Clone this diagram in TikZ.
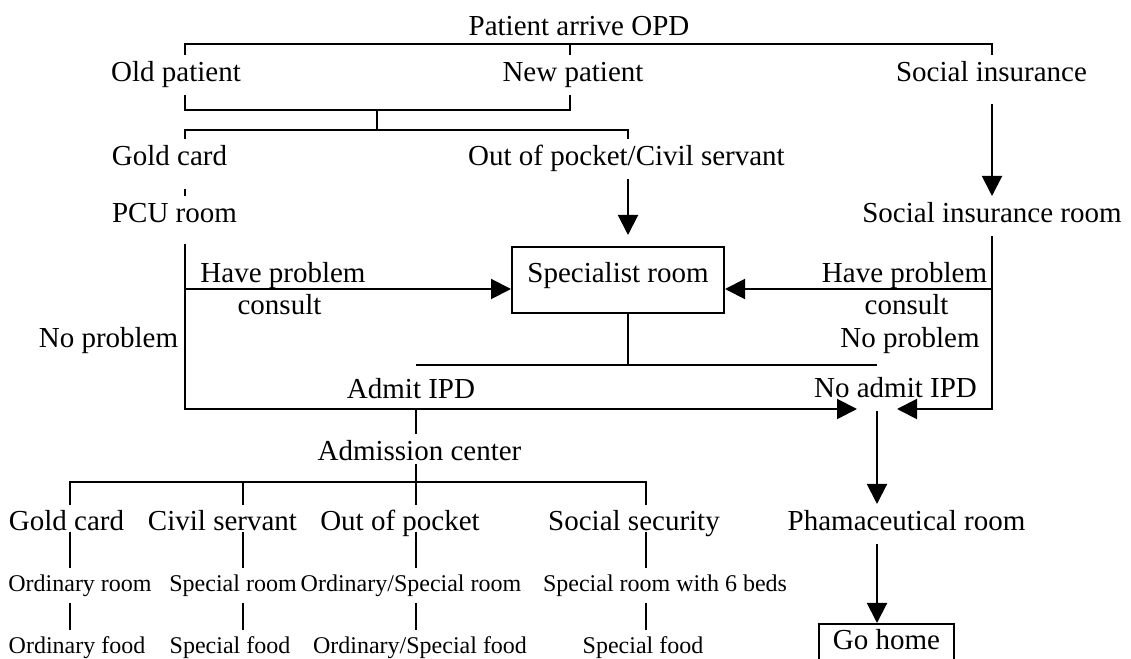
\documentclass[tikz,border=0pt]{standalone}
\usepackage{fontspec}
\setmainfont{Liberation Serif}
\usetikzlibrary{arrows.meta}
\tikzset{
  lbl/.style={font=\fontsize{14.5bp}{17bp}\selectfont,inner xsep=0pt,inner ysep=3bp,text height=10bp,text depth=3bp,anchor=base},
  opt/.style={lbl,text height=12.5bp,text depth=0bp,inner ysep=0bp},
  sml/.style={lbl,font=\fontsize{12bp}{14bp}\selectfont,text height=8bp,text depth=2.5bp},
  roombox/.style={lbl,draw,anchor=center,text height=6bp,text depth=3bp},
}
\begin{document}
\begin{tikzpicture}[>={Triangle[length=10bp,width=10bp]},line join=miter,line width=1bp]
%%
\useasboundingbox (0bp,0bp) rectangle (565.5bp,329.5bp);
\clip (0bp,0bp) rectangle (565.5bp,329.5bp);
\node (title) at (289.5bp,311.5bp) [lbl] {Patient arrive OPD};
  \node (oldp) at (88.0bp,288.5bp) [lbl] {Old patient};
  \node (newp) at (286.5bp,288.5bp) [lbl] {New patient};
  \node (socins) at (495.75bp,288.5bp) [lbl] {Social insurance};
  \node (gold) at (84.75bp,246.5bp) [lbl] {Gold card};
  \node (oop) at (313.25bp,246.5bp) [lbl] {Out of pocket/Civil servant};
  \node (pcu) at (87.25bp,218.0bp) [lbl] {PCU room};
  \node (socroom) at (496.0bp,218.0bp) [lbl] {Social insurance room};
  \node (spec) at (309.0bp,189.5bp) [roombox,minimum width=106bp,minimum height=33bp] {Specialist room};
  \node (havel) at (141.5bp,188.0bp) [lbl] {Have problem};
  \node (consl) at (139.75bp,172.0bp) [lbl] {consult};
  \node (noprobl) at (54.25bp,155.5bp) [lbl] {No problem};
  \node (haver) at (452.25bp,188.0bp) [lbl] {Have problem};
  \node (consr) at (453.25bp,172.0bp) [lbl] {consult};
  \node (noprobr) at (455.0bp,155.5bp) [lbl] {No problem};
  \node (admit) at (205.5bp,130.0bp) [lbl] {Admit IPD};
  \node (noadmit) at (447.75bp,130.5bp) [lbl] {No admit IPD};
  \node (adm) at (209.75bp,99.0bp) [lbl] {Admission center};
  \node (pharm) at (453.25bp,64.0bp) [lbl] {Phamaceutical room};
  \node (home) at (443.25bp,18.0bp) [roombox,anchor=north,minimum width=67.5bp,minimum height=22bp] {Go home};
  \node (g1) at (33.25bp,64.0bp) [opt] {Gold card};
  \node (g2) at (111.25bp,64.0bp) [opt] {Civil servant};
  \node (g3) at (200.0bp,64.0bp) [opt] {Out of pocket};
  \node (g4) at (317.0bp,64.0bp) [opt] {Social security};
  \node (r1) at (40.0bp,34.0bp) [sml] {Ordinary room};
  \node (r2) at (116.5bp,34.0bp) [sml] {Special room};
  \node (r3) at (205.5bp,34.0bp) [sml] {Ordinary/Special room};
  \node (r4) at (332.5bp,34.0bp) [sml] {Special room with 6 beds};
  \node (f1) at (38.5bp,3.0bp) [sml] {Ordinary food};
  \node (f2) at (115.0bp,3.0bp) [sml] {Special food};
  \node (f3) at (210.0bp,3.0bp) [sml] {Ordinary/Special food};
  \node (f4) at (321.5bp,3.0bp) [sml] {Special food};
  \coordinate (tl) at (92.5bp,307.5bp);
  \coordinate (tm) at (285.0bp,307.5bp);
  \coordinate (tr) at (496.0bp,307.5bp);
  \coordinate (bl1) at (92.5bp,274.5bp);
  \coordinate (bm1) at (285.0bp,274.5bp);
  \coordinate (bc1) at (188.5bp,274.5bp);
  \coordinate (bc2) at (188.5bp,264.5bp);
  \coordinate (bl2) at (92.5bp,264.5bp);
  \coordinate (br2) at (314.0bp,264.5bp);
  \coordinate (lhp) at (92.5bp,185.0bp);
  \coordinate (rhp) at (496.0bp,185.0bp);
  \coordinate (lcorner) at (92.5bp,125.0bp);
  \coordinate (rcorner) at (496.0bp,125.0bp);
  \coordinate (meet) at (438.5bp,125.0bp);
  \coordinate (sl) at (208.0bp,147.0bp);
  \coordinate (sm) at (314.0bp,147.0bp);
  \coordinate (sr) at (438.5bp,147.0bp);
  \coordinate (adj) at (208.0bp,125.0bp);
  \coordinate (cl) at (35.0bp,88.5bp);
  \coordinate (c2) at (121.5bp,88.5bp);
  \coordinate (c3) at (208.0bp,88.5bp);
  \coordinate (cr) at (323.0bp,88.5bp);
  \draw [black] (oldp.north -| tl) -- (tl) -- (tr) -- (socins.north -| tr);
  \draw [black] (tm) -- (newp.north -| tm);
  \draw [black] (oldp.south -| bl1) -- (bl1) -- (bm1) -- (newp.south -| bm1);
  \draw [black] (bc1) -- (bc2);
  \draw [black] (gold.north -| bl2) -- (bl2) -- (br2) -- (oop.north -| br2);
  \draw [black,shorten <=5bp] (gold.south -| bl2) -- (pcu.north -| bl2);
  \draw [black,->,shorten >=5.5bp] (oop.south -| br2) -- (spec.north -| br2);
  \draw [black,->,shorten <=4.5bp] (socins.south -| tr) -- (socroom.north -| tr);
  \draw [black,->] (lhp) -- (lhp -| spec.west);
  \draw [black,->] (rhp) -- (rhp -| spec.east);
  \draw [black,->,shorten <=4bp,shorten >=10bp] (pcu.south -| lcorner) -- (lcorner) -- (meet);
  \draw [black,->,shorten >=10bp] (socroom.south -| rcorner) -- (rcorner) -- (meet);
  \draw [black] (spec.south -| sm) -- (sm);
  \draw [black] (sl) -- (sr);
  \draw [black,->] (noadmit.south -| meet) -- (pharm.north -| meet);
  \draw [black,->] (pharm.south -| meet) -- (home.north -| meet);
  \draw [black] (adj) -- (adm.north -| adj);
  \draw [black,shorten <=-5bp] (adm.south -| c3) -- (g3.north -| c3);
  \draw [black] (g1.north -| cl) -- (cl) -- (cr) -- (g4.north -| cr);
  \draw [black] (c2) -- (g2.north -| c2);
  \draw [black] (g1.south -| cl) -- (r1.north -| cl);
  \draw [black] (g2.south -| c2) -- (r2.north -| c2);
  \draw [black] (g3.south -| c3) -- (r3.north -| c3);
  \draw [black] (g4.south -| cr) -- (r4.north -| cr);
  \draw [black] (r1.south -| cl) -- (f1.north -| cl);
  \draw [black] (r2.south -| c2) -- (f2.north -| c2);
  \draw [black] (r3.south -| c3) -- (f3.north -| c3);
  \draw [black] (r4.south -| cr) -- (f4.north -| cr);
%
\end{tikzpicture}
\end{document}
